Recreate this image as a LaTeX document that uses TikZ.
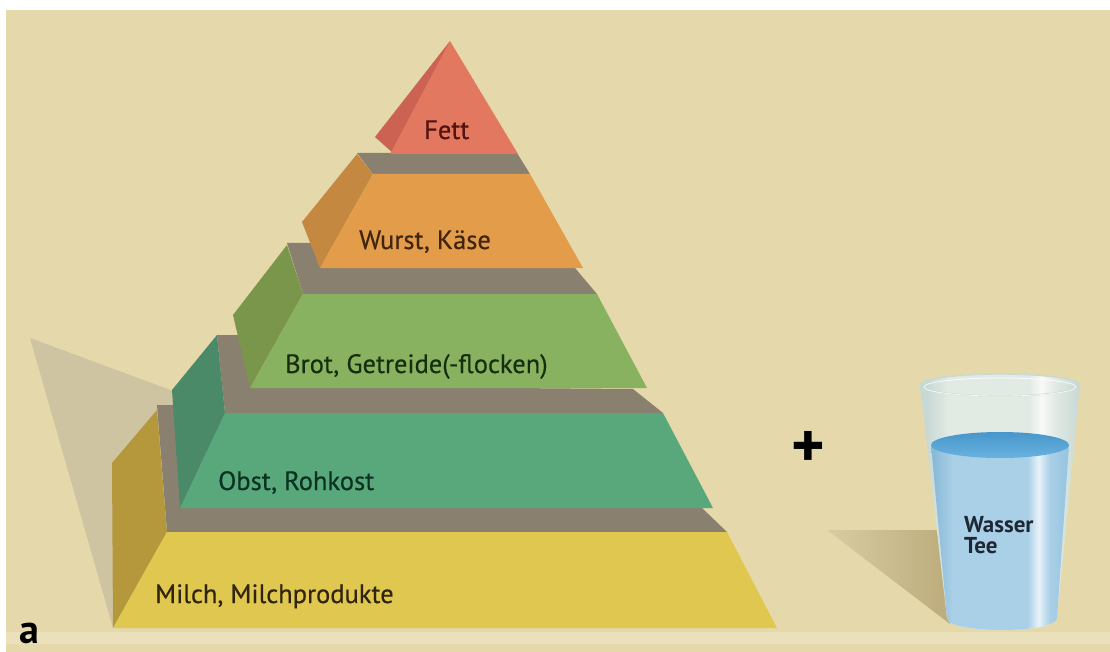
\documentclass[tikz,border=0pt]{standalone}
\usepackage{fontspec}
\setmainfont{PT Sans}

% Hintergrund und Schatten
\definecolor{bgbeige}{RGB}{229,217,171}
\definecolor{bglight}{RGB}{234,225,188}
\definecolor{shadowtan}{RGB}{206,196,162}
\definecolor{shadowlite}{RGB}{216,204,162}
\definecolor{shadowdark}{RGB}{188,172,124}
% Stufen: Front / Seite
\definecolor{ledgegray}{RGB}{138,128,112}
\definecolor{milchfront}{RGB}{224,200,80}
\definecolor{milchside}{RGB}{182,152,60}
\definecolor{obstfront}{RGB}{88,168,124}
\definecolor{obstside}{RGB}{74,138,104}
\definecolor{brotfront}{RGB}{136,178,96}
\definecolor{brotside}{RGB}{122,150,74}
\definecolor{wurstfront}{RGB}{226,156,74}
\definecolor{wurstside}{RGB}{196,136,64}
\definecolor{fettfront}{RGB}{226,120,96}
\definecolor{fettside}{RGB}{204,98,82}
% Beschriftung
\definecolor{milchtext}{RGB}{48,36,12}
\definecolor{obsttext}{RGB}{10,50,32}
\definecolor{brottext}{RGB}{22,46,14}
\definecolor{wursttext}{RGB}{64,36,12}
\definecolor{fetttext}{RGB}{84,18,16}
\definecolor{glasstext}{RGB}{30,40,52}
% Glas
\definecolor{airedge}{RGB}{200,216,212}
\definecolor{airpale}{RGB}{226,234,228}
\definecolor{airhigh}{RGB}{248,250,248}
\definecolor{watersh}{RGB}{138,186,214}
\definecolor{waterblue}{RGB}{170,208,232}
\definecolor{waterhigh}{RGB}{232,242,248}
\definecolor{waterright}{RGB}{150,196,224}
\definecolor{surfdark}{RGB}{72,150,204}
\definecolor{surflite}{RGB}{104,178,222}

\pgfdeclarehorizontalshading{glassair}{100bp}{color(0bp)=(airedge); color(27bp)=(airedge);
  color(34bp)=(airpale); color(59bp)=(airpale); color(63bp)=(airhigh); color(67bp)=(airpale);
  color(75bp)=(airedge); color(100bp)=(airedge)}
\pgfdeclarehorizontalshading{waterbody}{100bp}{color(0bp)=(watersh); color(26bp)=(watersh);
  color(33bp)=(waterblue); color(60bp)=(waterblue); color(64bp)=(waterhigh); color(68bp)=(waterblue);
  color(75bp)=(waterright); color(100bp)=(waterright)}

\begin{document}
\begin{tikzpicture}[x=1pt,y=-1pt,
  ledge/.style={fill=ledgegray},
  lbl/.style={anchor=base west,inner sep=0pt,
    font=\fontsize{26.5}{30}\selectfont\addfontfeature{FakeBold=0.4}},
  glasslbl/.style={anchor=north west,inner sep=0pt,align=left,text=glasstext,
    font=\fontsize{23}{21}\selectfont\bfseries}]
  \useasboundingbox (0,0) rectangle (1110,652);
  \fill[white] (0,0) rectangle (1110,652);
  \fill[bgbeige] (6,10) rectangle (1110,652);
  \fill[bglight] (6,632) rectangle (1110,644);

  % Schatten links und hinter dem Glas
  \fill[shadowtan] (30,338) -- (176,392) -- (113,628) -- cycle;
  \shade[left color=shadowlite,right color=shadowdark] (827,530) -- (946,530) -- (950,624) -- cycle;

  % Milch
  \fill[ledge] (157,405) -- (190,405) -- (190,413) -- (660,413) -- (702,508) -- (727,532) -- (167,532) -- cycle;
  \fill[milchside] (113,628) -- (112,463) -- (157,410) -- (167,532) -- cycle;
  \fill[milchfront] (113,628) -- (167,532) -- (727,532) -- (777,628) -- cycle;
  % Obst
  \fill[ledge] (217,335) -- (245,335) -- (262,386) -- (633,389) -- (663,413) -- (225,413) -- cycle;
  \fill[obstside] (180,508) -- (172,390) -- (217,335) -- (225,413) -- cycle;
  \fill[obstfront] (180,508) -- (225,413) -- (663,413) -- (713,508) -- cycle;
  % Brot
  \fill[ledge] (287,243) -- (312,243) -- (326,266) -- (575,268) -- (597,294) -- (303,294) -- cycle;
  \fill[brotside] (250,388) -- (233,315) -- (287,245) -- (303,294) -- cycle;
  \fill[brotfront] (250,388) -- (303,294) -- (597,294) -- (647,388) -- cycle;
  % Wurst
  \fill[ledge] (357,153) -- (517,153) -- (530,174) -- (373,174) -- cycle;
  \fill[wurstside] (320,268) -- (302,222) -- (357,154) -- (373,174) -- cycle;
  \fill[wurstfront] (320,268) -- (373,174) -- (530,174) -- (583,268) -- cycle;
  % Fett
  \fill[fettside] (450,41) -- (375,137) -- (394,154) -- cycle;
  \fill[fettfront] (450,41) -- (390,154) -- (518,154) -- cycle;

  \node[lbl,text=milchtext] (milch) at (155,603) {Milch, Milchprodukte};
  \node[lbl,text=obsttext] (obst) at (218,490) {Obst, Rohkost};
  \node[lbl,text=brottext] (brot) at (285,373) {Brot, Getreide(-flocken)};
  \node[lbl,text=wursttext] (wurst) at (359,249) {Wurst, Käse};
  \node[lbl,text=fetttext] (fett) at (424,139) {Fett};

  % Glas mit Wasser
  \shade[shading=glassair] (920,385) -- (947,618) .. controls (947,634) and (1057,634) .. (1057,618)
    -- (1080,385) .. controls (1080,370) and (920,370) .. cycle;
  \shade[shading=waterbody] (931,445) -- (947,618) .. controls (947,634) and (1057,634) .. (1057,618)
    -- (1069,445) -- cycle;
  \shade[top color=surfdark,bottom color=surflite] (1000,445) ellipse[x radius=69,y radius=13];
  \draw[airedge,line width=1.4pt] (1000,385) ellipse[x radius=80,y radius=11];
  \draw[white,line width=.8pt,opacity=.8] (1000,387) ellipse[x radius=76,y radius=9];

  \node[glasslbl] (drinks) at (964,516) {Wasser\\Tee};

  \node[inner sep=0pt,font=\fontsize{64}{64}\selectfont\bfseries] (plus) at (808,449) {+};
  \node[anchor=base west,inner sep=0pt,font=\fontsize{40}{40}\selectfont\bfseries] (tag) at (19,643) {a};
\end{tikzpicture}
\end{document}
